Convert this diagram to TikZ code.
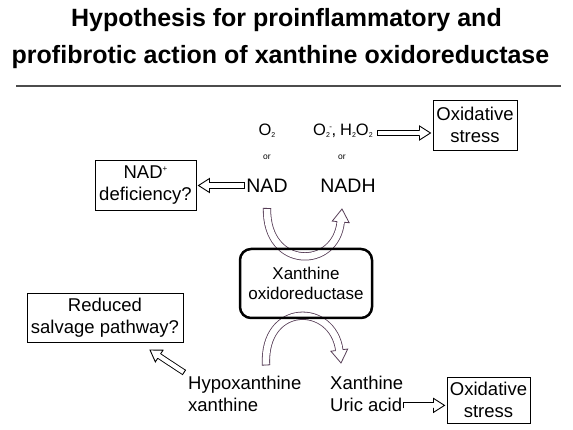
\documentclass[tikz,border=0pt]{standalone}
\usepackage{fontspec}
\setmainfont{Liberation Sans}
\newcommand\lsub[1]{\raisebox{-1.5pt}{\fontsize{7}{7}\selectfont #1}}
\newcommand\lsup[1]{\raisebox{6.5pt}{\fontsize{8}{8}\selectfont #1}}
\definecolor{arrc}{RGB}{85,60,85}
\begin{document}
\begin{tikzpicture}[x=1pt,y=1pt,
  box/.style={draw, line width=0.9pt, align=center, inner sep=0pt, outer sep=2.5pt,
              font=\fontsize{18.5}{22}\selectfont},
  lbl/.style={inner sep=0pt, font=\fontsize{18.5}{22}\selectfont},
  ttl/.style={inner sep=0pt, font=\fontsize{25}{28}\selectfont\bfseries},
  hshaft/.style={draw=black, line width=0.9pt, double=white, double distance=4.3pt, shorten >=10.6pt},
  cshaft/.style={draw=arrc, line width=0.8pt, double=white, double distance=6.6pt, shorten >=12.6pt},
  tip/.style={sloped, allow upside down},
  headS/.pic={\fill[white] (0pt,0pt)--(-11pt,7pt)--(-11pt,-7pt)--cycle;
              \draw[black, line width=0.9pt, miter limit=20] (-11pt,2.6pt)--(-11pt,7pt)--(0pt,0pt)--(-11pt,-7pt)--(-11pt,-2.6pt);},
  tailS/.pic={\draw[black, line width=0.9pt] (0pt,-3.05pt)--(0pt,3.05pt);},
  headL/.pic={\fill[white] (0pt,0pt)--(-13pt,8.5pt)--(-13pt,-8.5pt)--cycle;
              \draw[arrc, line width=0.8pt, miter limit=20] (-13pt,3.7pt)--(-13pt,8.5pt)--(0pt,0pt)--(-13pt,-8.5pt)--(-13pt,-3.7pt);},
  tailL/.pic={\draw[arrc, line width=0.8pt] (0pt,-4.1pt)--(0pt,4.1pt);}
]
\useasboundingbox (0,0) rectangle (573,430);
\fill[white] (0,0) rectangle (573,430);

% title
\node[ttl] (t1) at (286.5,410) {Hypothesis for proinflammatory and};
\node[ttl] (t2) at (280.5,373) {profibrotic action of xanthine oxidoreductase};
\coordinate (rl) at (16,344);
\coordinate (rr) at (561,344);
\draw[line width=1.2pt, draw=black!70] (rl) -- (rr);

% top row
\node[inner sep=0pt, anchor=base, font=\fontsize{16.5}{16}\selectfont] (o2) at (267,294) {O\lsub{2}};
\node[inner sep=0pt, anchor=base west, font=\fontsize{16.5}{16}\selectfont] (ros) at (313,294)
   {O\lsub{2}\kern-0.5pt\lsup{-}\kern-0.5pt,\hspace{4pt}H\lsub{2}O\lsub{2}};
\node[box, minimum width=84pt, minimum height=50pt] (ox1) at (475,305) {Oxidative\\stress};
\node[inner sep=0pt, font=\fontsize{8.5}{9}\selectfont] (or1) at (267,273) {or};
\node[inner sep=0pt, font=\fontsize{8.5}{9}\selectfont] (or2) at (342,273) {or};
\node[lbl, font=\fontsize{19.5}{22}\selectfont] (nad) at (267,244.5) {NAD};
\node[lbl, font=\fontsize{19.5}{22}\selectfont] (nadh) at (348,244.5) {NADH};
\node[box, minimum width=101pt, minimum height=50pt] (def) at (145.5,245) {NAD\lsup{+}\\deficiency?};

% straight hollow arrows
\coordinate (r1) at ([xshift=5pt,yshift=3pt]ros.base east);
\coordinate (r2) at (r1 -| ox1.west);
\draw[hshaft] (r1) -- (r2);
\path (r1) -- (r2) pic[pos=0,tip]{tailS} pic[pos=1,tip]{headS};
\coordinate (n1) at ([xshift=-2pt]nad.west);
\coordinate (n2) at (n1 -| def.east);
\draw[hshaft] (n1) -- (n2);
\path (n1) -- (n2) pic[pos=0,tip]{tailS} pic[pos=1,tip]{headS};

% curved arrows
\coordinate (c0) at ([yshift=-16pt]nad.south);
\coordinate (c1) at (342,221);
\draw[cshaft] (c0) .. controls (266,160) and (336,160) .. (c1);
\path (c0) .. controls (266,160) and (336,160) .. (c1)
   pic[pos=0,tip]{tailL} pic[pos=1,tip]{headL};
\coordinate (d0) at (266,65);
\coordinate (d1) at (341,67);
\draw[cshaft] (d0) .. controls (263,128) and (333,128) .. (d1);
\path (d0) .. controls (263,128) and (333,128) .. (d1)
   pic[pos=0,tip]{tailL} pic[pos=1,tip]{headL};

% enzyme box
\node[draw, line width=2.5pt, rounded corners=11pt, minimum width=132pt, minimum height=69pt,
      align=center, inner sep=0pt, font=\fontsize{17}{20.5}\selectfont] (xo) at (306,146.5)
      {Xanthine\\oxidoreductase};

% bottom
\node[box, minimum width=156pt, minimum height=49pt] (salv) at (105,112.5) {Reduced\\salvage pathway?};
\node[lbl, anchor=base west] (hx1) at (188,40) {Hypoxanthine};
\node[lbl, anchor=base west] (hx2) at (188,18) {xanthine};
\node[lbl, anchor=base west] (xa1) at (330,40) {Xanthine};
\node[lbl, anchor=base west] (xa2) at (330,18) {Uric acid};
\node[box, minimum width=83pt, minimum height=46pt] (ox2) at (488.5,30) {Oxidative\\stress};

\coordinate (h0) at ([xshift=-4pt,yshift=4pt]hx1.north west);
\coordinate (h1) at (150,80);
\draw[hshaft] (h0) -- (h1);
\path (h0) -- (h1) pic[pos=0,tip]{tailS} pic[pos=1,tip]{headS};
\coordinate (u0) at ([xshift=1pt]xa2.east);
\coordinate (u1) at (u0 -| ox2.west);
\draw[hshaft] (u0) -- (u1);
\path (u0) -- (u1) pic[pos=0,tip]{tailS} pic[pos=1,tip]{headS};
\end{tikzpicture}
\end{document}
